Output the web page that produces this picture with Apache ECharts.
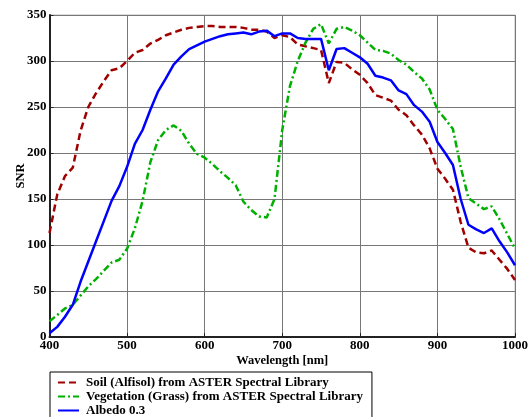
<!DOCTYPE html>
<html>
<head>
<meta charset="utf-8">
<script src="https://cdn.jsdelivr.net/npm/echarts@6/dist/echarts.min.js"></script>
<style>
  html, body { margin: 0; padding: 0; background: #fff; }
  #chart { width: 530px; height: 417px; }
</style>
</head>
<body>
<div id="chart"></div>
<script>
// wavelength samples, nm
var wavelength = [400, 410, 420, 430, 440, 450, 460, 470, 480, 490,
    500, 510, 520, 530, 540, 550, 560, 570, 580, 590,
    600, 610, 620, 630, 640, 650, 660, 670, 680, 690,
    700, 710, 720, 730, 740, 750, 760, 770, 780, 790,
    800, 810, 820, 830, 840, 850, 860, 870, 880, 890,
    900, 910, 920, 930, 940, 950, 960, 970, 980, 990, 1000];

var soilSnr = [113, 155, 175, 184, 224, 250, 265, 278, 290, 292,
    300, 309, 312, 319, 323, 328, 331, 334, 336, 337,
    338, 338, 337, 337, 337, 336, 334, 334, 332, 325,
    328, 326, 318, 316, 314, 312, 276, 299, 298, 291,
    285, 276, 263, 260, 257, 247, 241, 230, 220, 205,
    183, 172, 160, 125, 97, 92, 91, 94, 84, 74, 62];

var grassSnr = [17, 24, 31, 35, 45, 55, 63, 72, 81, 84,
    96, 118, 148, 190, 214, 225, 230, 224, 210, 199,
    195, 188, 180, 173, 165, 147, 138, 131, 130, 150,
    225, 273, 300, 320, 335, 340, 319, 335, 337, 333,
    328, 320, 312, 311, 308, 301, 296, 288, 281, 269,
    247, 237, 226, 185, 151, 145, 139, 142, 128, 112, 96];

var albedoSnr = [4, 11, 22, 35, 60, 82, 104, 126, 148, 164,
    185, 210, 225, 247, 267, 281, 296, 305, 313, 317,
    321, 324, 327, 329, 330, 331, 329, 332, 333, 327,
    330, 330, 325, 324, 324, 324, 290, 313, 314, 309,
    304, 297, 284, 282, 279, 268, 264, 252, 245, 234,
    212, 200, 187, 150, 122, 117, 113, 118, 104, 92, 78];

var seriesNames = [
    'Soil (Alfisol) from ASTER Spectral Library',
    'Vegetation (Grass) from ASTER Spectral Library',
    'Albedo 0.3'
];

var FONT = '"Liberation Serif", "DejaVu Serif", serif';

function pairs(ys) {
    return wavelength.map(function(x, i) { return [x, ys[i]]; });
}

function lineSeries(name, ys, color, type) {
    return {
        name: name,
        type: 'line',
        data: pairs(ys),
        symbol: 'none',
        animation: false,
        lineStyle: { color: color, width: 2.5, type: type },
        itemStyle: { color: color }
    };
}

var chart = echarts.init(document.getElementById('chart'));

chart.setOption({
    backgroundColor: '#fff',
    grid: {
        left: 49.5, right: 15, top: 15, bottom: 80,
        containLabel: false,
        outerBoundsMode: 'none',
        show: true, borderColor: '#bbb', borderWidth: 1
    },
    xAxis: {
        type: 'value',
        min: 400, max: 1000, interval: 100,
        name: 'Wavelength [nm]',
        nameLocation: 'middle',
        nameMoveOverlap: false,
        nameGap: 17,
        nameTextStyle: { fontFamily: FONT, fontWeight: 'bold', fontSize: 12.5, color: '#000' },
        axisLine: { lineStyle: { color: '#222', width: 2 } },
        axisTick: { inside: true, length: 4, lineStyle: { color: '#222' } },
        axisLabel: {
            fontFamily: FONT, fontWeight: 'bold', fontSize: 13, color: '#000', margin: 2,
            formatter: function(v) { return String(v); }
        },
        splitLine: { show: true, lineStyle: { color: '#777', width: 1 } }
    },
    yAxis: {
        type: 'value',
        min: 0, max: 350, interval: 50,
        name: 'SNR',
        nameLocation: 'middle',
        nameMoveOverlap: false,
        nameGap: 22,
        nameTextStyle: { fontFamily: FONT, fontWeight: 'bold', fontSize: 12.5, color: '#000' },
        axisLine: { show: true, lineStyle: { color: '#222', width: 2 } },
        axisTick: { show: true, inside: true, length: 4, lineStyle: { color: '#222' } },
        axisLabel: { fontFamily: FONT, fontWeight: 'bold', fontSize: 13, color: '#000', margin: 3 },
        splitLine: { show: true, lineStyle: { color: '#777', width: 1 } }
    },
    legend: {
        orient: 'vertical',
        left: 50, top: 372,
        height: 60,
        padding: [4, 9, 2, 7],
        itemGap: 1,
        itemWidth: 21, itemHeight: 13,
        borderColor: '#000', borderWidth: 1,
        backgroundColor: '#fff',
        itemStyle: { opacity: 0 },
        textStyle: { fontFamily: FONT, fontWeight: 'bold', fontSize: 13, color: '#000', padding: [0, 0, 0, 2] },
        data: seriesNames
    },
    series: [
        lineSeries(seriesNames[0], soilSnr, '#a00000', [7, 4]),
        lineSeries(seriesNames[1], grassSnr, '#00b000', [7, 3, 2, 3]),
        lineSeries(seriesNames[2], albedoSnr, '#0000ff', 'solid')
    ]
});
</script>
</body>
</html>
